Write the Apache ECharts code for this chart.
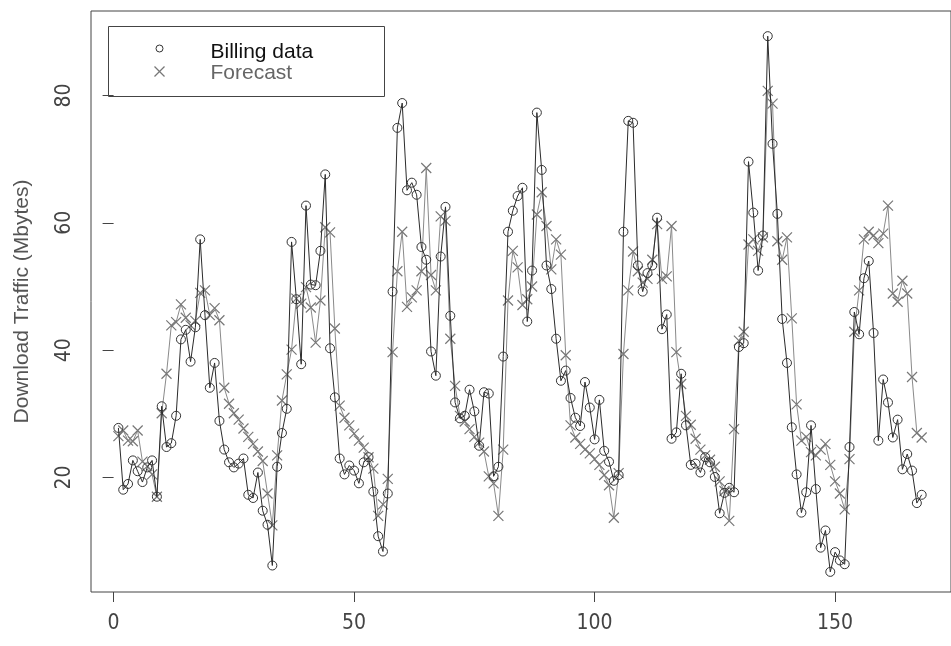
<!DOCTYPE html>
<html>
<head>
<meta charset="utf-8">
<script src="https://cdn.jsdelivr.net/npm/echarts@6/dist/echarts.min.js"></script>
<style>
  html, body { margin: 0; padding: 0; background: #ffffff; }
  #chart { width: 951px; height: 646px; }
</style>
</head>
<body>
<div id="chart"></div>
<script>
// Daily download traffic (Mbytes), days 1..168
const billing = [
  27.8, 18.1, 19.0, 22.7, 21.0, 19.3, 21.6, 22.7, 17.0, 31.2,
  24.8, 25.4, 29.7, 41.7, 43.2, 38.2, 43.6, 57.4, 45.5, 34.1,
  38.0, 28.9, 24.4, 22.4, 21.6, 22.2, 23.0, 17.3, 16.8, 20.8,
  14.8, 12.6, 6.2, 21.7, 27.0, 30.8, 57.0, 48.0, 37.8, 62.7,
  50.3, 50.2, 55.6, 67.6, 40.3, 32.6, 23.0, 20.5, 21.9, 21.1,
  19.1, 22.4, 23.2, 17.8, 10.8, 8.4, 17.5, 49.2, 74.9, 78.8,
  65.1, 66.3, 64.4, 56.2, 54.2, 39.8, 36.0, 54.7, 62.5, 45.4,
  31.8, 29.3, 29.7, 33.8, 30.4, 25.0, 33.4, 33.2, 20.2, 21.7,
  39.0, 58.6, 61.9, 64.2, 65.5, 44.5, 52.5, 77.3, 68.3, 53.3,
  49.6, 41.8, 35.2, 36.8, 32.5, 29.4, 28.1, 35.0, 31.0, 26.0,
  32.2, 24.2, 22.5, 19.5, 20.4, 58.6, 76.0, 75.7, 53.3, 49.2,
  52.1, 53.3, 60.8, 43.3, 45.6, 26.1, 27.1, 36.3, 28.2, 22.0,
  22.2, 20.8, 23.2, 22.4, 20.1, 14.4, 17.6, 18.4, 17.7, 40.5,
  41.1, 69.6, 61.6, 52.5, 58.0, 89.3, 72.4, 61.4, 44.9, 38.0,
  27.9, 20.5, 14.5, 17.7, 28.2, 18.2, 9.0, 11.7, 5.2, 8.3,
  7.0, 6.4, 24.8, 46.0, 42.5, 51.3, 54.0, 42.7, 25.8, 35.4,
  31.8, 26.3, 29.1, 21.3, 23.7, 21.1, 16.0, 17.3
];

const forecast = [
  26.5, 27.4, 25.8, 25.7, 27.4, 22.5, 21.8, 20.5, 17.0, 30.1,
  36.3, 43.9, 44.4, 47.2, 45.1, 43.9, 44.6, 49.0, 49.4, 45.5,
  46.6, 44.7, 34.1, 31.6, 30.1, 29.1, 27.7, 26.4, 25.3, 24.1,
  22.6, 17.5, 12.5, 23.5, 32.1, 36.2, 40.1, 48.1, 47.3, 49.9,
  46.7, 41.2, 47.8, 59.3, 58.5, 43.4, 31.3, 29.4, 28.2, 26.9,
  25.8, 24.7, 23.2, 21.4, 14.0, 15.8, 19.8, 39.7, 52.4, 58.6,
  46.8, 48.3, 49.4, 52.4, 68.6, 51.8, 49.4, 61.0, 60.3, 41.8,
  34.4, 29.7, 28.8, 27.6, 26.4, 25.5, 24.1, 20.2, 19.1, 14.0,
  24.4, 47.8, 55.6, 53.0, 47.1, 48.0, 50.0, 61.3, 64.8, 59.5,
  52.7, 57.4, 55.0, 39.2, 28.2, 26.3, 25.3, 24.4, 23.8, 22.9,
  22.0, 20.4, 18.8, 13.7, 20.7, 39.4, 49.4, 55.5, 52.4, 50.6,
  51.2, 54.2, 59.8, 51.2, 51.6, 59.5, 39.7, 34.7, 29.7, 28.3,
  26.1, 24.4, 23.5, 22.8, 21.7, 19.4, 17.9, 13.2, 27.6, 41.5,
  42.9, 56.6, 57.4, 55.6, 57.7, 80.7, 78.7, 57.1, 54.2, 57.7,
  45.0, 31.5, 25.8, 26.4, 24.0, 23.5, 24.4, 25.3, 22.0, 19.4,
  17.5, 15.0, 22.9, 42.9, 49.4, 57.4, 58.6, 58.0, 56.8, 58.3,
  62.7, 48.9, 47.6, 50.9, 48.9, 35.8, 27.0, 26.3
];

const xTicks = [0, 50, 100, 150];
const yTicks = [20, 40, 60, 80];
const seriesNames = ['Billing data', 'Forecast'];
const yTitle = 'Download Traffic (Mbytes)';

// pair each value with its day number
const toPairs = arr => arr.map((v, i) => [i + 1, v]);

const narrowFont = '"Liberation Sans Narrow", "DejaVu Sans Condensed", "Liberation Sans", sans-serif';
const plainFont = '"Liberation Sans", Arial, sans-serif';
const crossSymbol = 'path://M0,0L10,10M10,0L0,10';
const ringSymbol = 'path://M10,5A5,5,0,1,1,0,5A5,5,0,1,1,10,5Z';

const chart = echarts.init(document.getElementById('chart'), null, { renderer: 'canvas' });

chart.setOption({
  animation: false,
  backgroundColor: '#ffffff',
  grid: {
    left: 91, right: -2, top: 11, bottom: 54,
    show: true, borderColor: '#444', borderWidth: 1
  },
  xAxis: {
    type: 'value',
    min: -4.7, max: 174.1,
    axisLine: { show: false },
    splitLine: { show: false },
    axisTick: { show: true, length: 10, customValues: xTicks, lineStyle: { color: '#444', width: 1 } },
    axisLabel: { customValues: xTicks, margin: 21, fontSize: 21, color: '#444', fontFamily: narrowFont }
  },
  yAxis: {
    type: 'value',
    min: 2.04, max: 93.25,
    name: yTitle,
    nameLocation: 'middle',
    nameGap: 58,
    nameTextStyle: { fontSize: 21, color: '#555', fontFamily: plainFont },
    axisLine: { show: false },
    splitLine: { show: false },
    axisTick: { show: true, length: 11, customValues: yTicks, lineStyle: { color: '#444', width: 1 } },
    axisLabel: { customValues: yTicks, rotate: 90, margin: 16, fontSize: 21, color: '#444', fontFamily: narrowFont }
  },
  series: [
    {
      name: seriesNames[0],
      type: 'line',
      data: toPairs(billing),
      symbol: ringSymbol,
      symbolSize: 9,
      showAllSymbol: true,
      silent: true,
      z: 3,
      lineStyle: { color: '#2b2b2b', width: 1 },
      itemStyle: { color: 'transparent', borderColor: '#333', borderWidth: 1 },
      emphasis: { disabled: true }
    },
    {
      name: seriesNames[1],
      type: 'line',
      data: toPairs(forecast),
      symbol: crossSymbol,
      symbolSize: 10,
      showAllSymbol: true,
      silent: true,
      z: 2,
      lineStyle: { color: '#8a8a8a', width: 1 },
      itemStyle: { color: 'transparent', borderColor: '#777', borderWidth: 1.2 },
      emphasis: { disabled: true }
    }
  ],
  graphic: [
    {
      type: 'group', left: 108, top: 26,
      children: [
        { type: 'rect', shape: { x: 0, y: 0, width: 276, height: 70 },
          style: { fill: '#fff', stroke: '#444', lineWidth: 1 } },
        { type: 'circle', shape: { cx: 51, cy: 22, r: 3.5 },
          style: { fill: 'transparent', stroke: '#333', lineWidth: 1 } },
        { type: 'polyline', shape: { points: [[46, 40], [56, 50]] },
          style: { stroke: '#777', lineWidth: 1.2 } },
        { type: 'polyline', shape: { points: [[56, 40], [46, 50]] },
          style: { stroke: '#777', lineWidth: 1.2 } },
        { type: 'text', x: 102, y: 26,
          style: { text: seriesNames[0], fontSize: 21, fontFamily: plainFont, fill: '#111', verticalAlign: 'middle' } },
        { type: 'text', x: 102, y: 47,
          style: { text: seriesNames[1], fontSize: 21, fontFamily: plainFont, fill: '#666', verticalAlign: 'middle' } }
      ]
    }
  ]
});
</script>
</body>
</html>
